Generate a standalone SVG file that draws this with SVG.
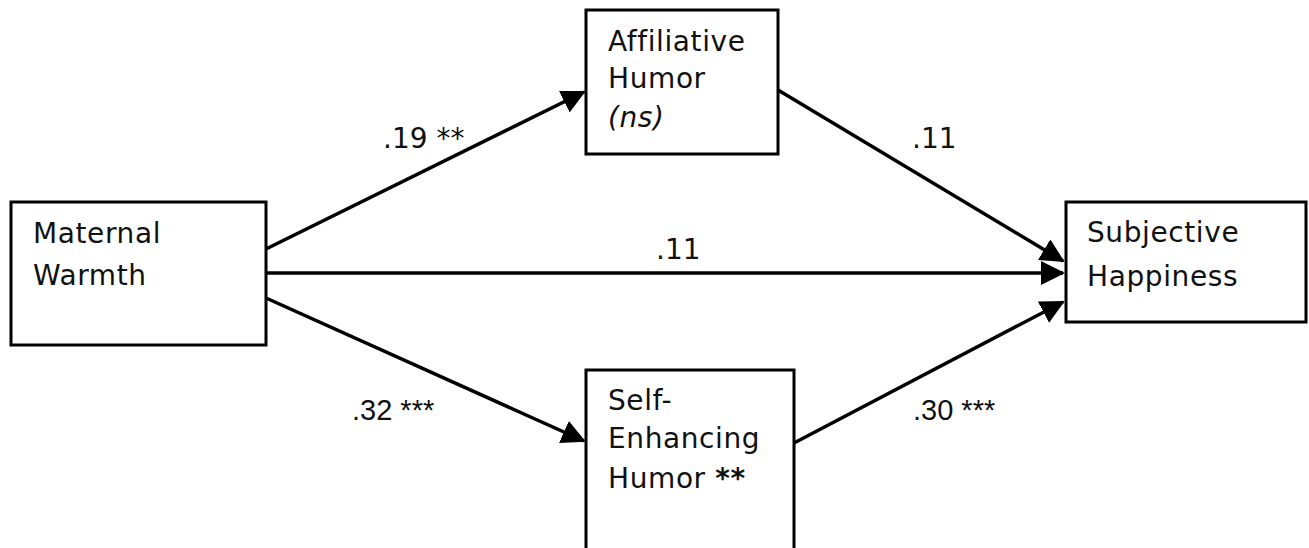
<svg xmlns="http://www.w3.org/2000/svg" width="1309" height="548" viewBox="0 0 1309 548">
<style>
.box{fill:#fff;stroke:#000;stroke-width:3}
.t{font-family:"DejaVu Sans","Liberation Sans",sans-serif;font-size:28px;fill:#111;letter-spacing:0.6px}
.lbl{font-family:"DejaVu Sans","Liberation Sans",sans-serif;font-size:28px;fill:#111}
.lbl2{font-family:"Liberation Sans",Arial,sans-serif;font-size:29px;fill:#111}
.c{stroke:#000;stroke-width:3.5;fill:none;marker-end:url(#ah)}
</style>
<defs>
<marker id="ah" markerUnits="userSpaceOnUse" viewBox="0 0 24 24" markerWidth="24" markerHeight="24" refX="22" refY="12" orient="auto">
<path d="M0,0 L24,12 L0,24 z" fill="#000"/>
</marker>
</defs>
<rect width="1309" height="548" fill="#fff"/>
<g id="connectors">
<line class="c" x1="266" y1="249" x2="584" y2="92"/>
<line class="c" x1="266" y1="273" x2="1063" y2="273"/>
<line class="c" x1="266" y1="298" x2="584" y2="441"/>
<line class="c" x1="778" y1="90" x2="1063" y2="261"/>
<line class="c" x1="794" y1="443" x2="1063" y2="302"/>
</g>
<g id="labels">
<text class="lbl" x="383" y="148">.19 **</text>
<text class="lbl" x="656" y="259">.11</text>
<text class="lbl" x="912" y="148">.11</text>
<text class="lbl2" x="352" y="420">.32 ***</text>
<text class="lbl2" x="913" y="420">.30 ***</text>
</g>
<g id="maternal">
<rect class="box" x="11" y="202" width="255" height="143"/>
<text class="t" x="33" y="243">Maternal</text>
<text class="t" x="33" y="285">Warmth</text>
</g>
<g id="affiliative">
<rect class="box" x="586" y="10" width="192" height="144"/>
<text class="t" x="608" y="51">Affiliative</text>
<text class="t" x="608" y="88">Humor</text>
<text class="t" x="608" y="127" font-style="italic">(ns)</text>
</g>
<g id="selfenhancing">
<rect class="box" x="586" y="370" width="208" height="200"/>
<text class="t" x="608" y="410">Self-</text>
<text class="t" x="608" y="448">Enhancing</text>
<text class="t" x="608" y="488">Humor <tspan font-weight="bold">**</tspan></text>
</g>
<g id="subjective">
<rect class="box" x="1066" y="202" width="240" height="120"/>
<text class="t" x="1087" y="242">Subjective</text>
<text class="t" x="1087" y="286">Happiness</text>
</g>
</svg>
